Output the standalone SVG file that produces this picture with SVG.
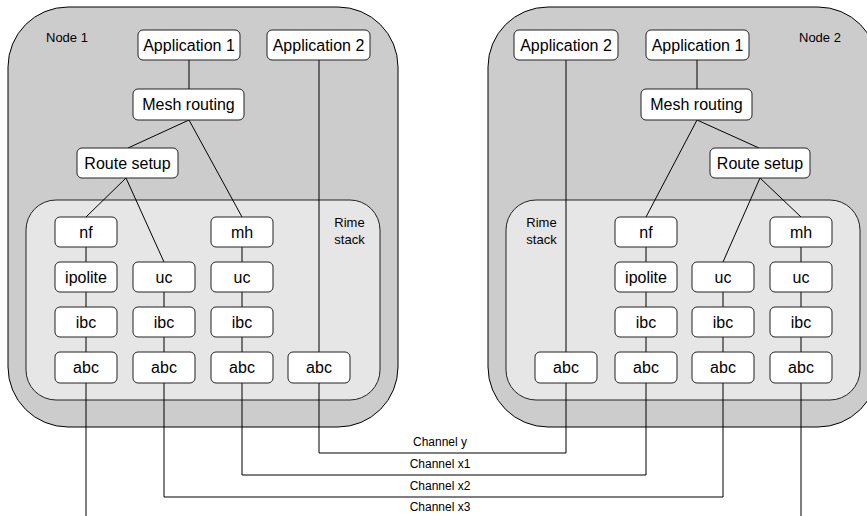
<svg xmlns="http://www.w3.org/2000/svg" width="867" height="516" viewBox="0 0 867 516">
<style>
.outer{fill:#cccccc;stroke:#000;stroke-width:1}
.rime{fill:#e6e6e6;stroke:#222;stroke-width:1}
.box{fill:#fff;stroke:#222;stroke-width:1}
.lbl{font-family:"Liberation Sans",Arial,sans-serif;font-size:16px;fill:#000;text-anchor:middle}
.small{font-family:"Liberation Sans",Arial,sans-serif;font-size:13px;fill:#000}
.ch{font-family:"Liberation Sans",Arial,sans-serif;font-size:12px;fill:#000;text-anchor:middle}
.conn line,.conn polyline{stroke:#000;stroke-width:1;fill:none}
</style>
<g id="node1-container">
<rect class="outer" x="8" y="7" width="390" height="420" rx="60"/>
<text class="small" x="46" y="42">Node 1</text>
</g>
<g id="node2-container">
<rect class="outer" x="488" y="7" width="390" height="420" rx="60"/>
<text class="small" x="799" y="42">Node 2</text>
</g>
<g id="rime1">
<rect class="rime" x="26" y="200" width="354" height="200" rx="30"/>
<text class="small" x="349.5" y="227" text-anchor="middle">Rime</text>
<text class="small" x="349.5" y="244" text-anchor="middle">stack</text>
</g>
<g id="rime2">
<rect class="rime" x="506" y="200" width="354" height="200" rx="30"/>
<text class="small" x="541.5" y="227" text-anchor="middle">Rime</text>
<text class="small" x="541.5" y="244" text-anchor="middle">stack</text>
</g>
<g class="conn" id="connectors">
<!-- node 1 -->
<line x1="189" y1="60" x2="189" y2="89"/>
<line x1="189" y1="120" x2="128" y2="148"/>
<line x1="189" y1="120" x2="242" y2="217"/>
<line x1="126" y1="178" x2="86" y2="217"/>
<line x1="126" y1="178" x2="164" y2="262"/>
<line x1="319" y1="60" x2="319" y2="352"/>
<line x1="86" y1="247" x2="86" y2="262"/>
<line x1="86" y1="292" x2="86" y2="307"/>
<line x1="86" y1="337" x2="86" y2="352"/>
<line x1="164" y1="292" x2="164" y2="307"/>
<line x1="164" y1="337" x2="164" y2="352"/>
<line x1="242" y1="247" x2="242" y2="262"/>
<line x1="242" y1="292" x2="242" y2="307"/>
<line x1="242" y1="337" x2="242" y2="352"/>
<!-- node 2 -->
<line x1="697" y1="60" x2="697" y2="89"/>
<line x1="697" y1="120" x2="646" y2="217"/>
<line x1="697" y1="120" x2="759" y2="148"/>
<line x1="760" y1="178" x2="723" y2="262"/>
<line x1="760" y1="178" x2="801" y2="217"/>
<line x1="566" y1="60" x2="566" y2="352"/>
<line x1="646" y1="247" x2="646" y2="262"/>
<line x1="646" y1="292" x2="646" y2="307"/>
<line x1="646" y1="337" x2="646" y2="352"/>
<line x1="723" y1="292" x2="723" y2="307"/>
<line x1="723" y1="337" x2="723" y2="352"/>
<line x1="801" y1="247" x2="801" y2="262"/>
<line x1="801" y1="292" x2="801" y2="307"/>
<line x1="801" y1="337" x2="801" y2="352"/>
<!-- channels -->
<polyline points="319,383 319,453 566,453 566,383"/>
<polyline points="242,383 242,475 646,475 646,383"/>
<polyline points="164,383 164,497 723,497 723,383"/>
<polyline points="86,383 86,520 801,520 801,383"/>
</g>
<g id="channel-labels">
<text class="ch" x="440" y="446">Channel y</text>
<text class="ch" x="440" y="468">Channel x1</text>
<text class="ch" x="440" y="490">Channel x2</text>
<text class="ch" x="440" y="511">Channel x3</text>
</g>
<!-- Node 1 boxes -->
<g id="n1-app1"><rect class="box" x="138" y="30" width="102" height="30" rx="5"/><text class="lbl" x="189" y="51">Application 1</text></g>
<g id="n1-app2"><rect class="box" x="267" y="30" width="103" height="30" rx="5"/><text class="lbl" x="318.5" y="51">Application 2</text></g>
<g id="n1-mesh"><rect class="box" x="133" y="89" width="111" height="31" rx="5"/><text class="lbl" x="188.5" y="110">Mesh routing</text></g>
<g id="n1-route"><rect class="box" x="77" y="148" width="101" height="30" rx="5"/><text class="lbl" x="127.5" y="169">Route setup</text></g>
<g id="n1-nf"><rect class="box" x="55" y="217" width="62" height="30" rx="5"/><text class="lbl" x="86" y="238">nf</text></g>
<g id="n1-ipolite"><rect class="box" x="55" y="262" width="62" height="30" rx="5"/><text class="lbl" x="86" y="283">ipolite</text></g>
<g id="n1-ibc1"><rect class="box" x="55" y="307" width="62" height="30" rx="5"/><text class="lbl" x="86" y="328">ibc</text></g>
<g id="n1-abc1"><rect class="box" x="55" y="352" width="62" height="31" rx="5"/><text class="lbl" x="86" y="373">abc</text></g>
<g id="n1-uc2"><rect class="box" x="133" y="262" width="62" height="30" rx="5"/><text class="lbl" x="164" y="283">uc</text></g>
<g id="n1-ibc2"><rect class="box" x="133" y="307" width="62" height="30" rx="5"/><text class="lbl" x="164" y="328">ibc</text></g>
<g id="n1-abc2"><rect class="box" x="133" y="352" width="62" height="31" rx="5"/><text class="lbl" x="164" y="373">abc</text></g>
<g id="n1-mh"><rect class="box" x="211" y="217" width="62" height="30" rx="5"/><text class="lbl" x="242" y="238">mh</text></g>
<g id="n1-uc3"><rect class="box" x="211" y="262" width="62" height="30" rx="5"/><text class="lbl" x="242" y="283">uc</text></g>
<g id="n1-ibc3"><rect class="box" x="211" y="307" width="62" height="30" rx="5"/><text class="lbl" x="242" y="328">ibc</text></g>
<g id="n1-abc3"><rect class="box" x="211" y="352" width="62" height="31" rx="5"/><text class="lbl" x="242" y="373">abc</text></g>
<g id="n1-abc4"><rect class="box" x="288" y="352" width="62" height="31" rx="5"/><text class="lbl" x="319" y="373">abc</text></g>
<!-- Node 2 boxes -->
<g id="n2-app2"><rect class="box" x="514" y="30" width="104" height="30" rx="5"/><text class="lbl" x="566" y="51">Application 2</text></g>
<g id="n2-app1"><rect class="box" x="646" y="30" width="103" height="30" rx="5"/><text class="lbl" x="697.5" y="51">Application 1</text></g>
<g id="n2-mesh"><rect class="box" x="641" y="89" width="111" height="31" rx="5"/><text class="lbl" x="696.5" y="110">Mesh routing</text></g>
<g id="n2-route"><rect class="box" x="710" y="148" width="100" height="30" rx="5"/><text class="lbl" x="760" y="169">Route setup</text></g>
<g id="n2-abc0"><rect class="box" x="535" y="352" width="62" height="31" rx="5"/><text class="lbl" x="566" y="373">abc</text></g>
<g id="n2-nf"><rect class="box" x="615" y="217" width="62" height="30" rx="5"/><text class="lbl" x="646" y="238">nf</text></g>
<g id="n2-ipolite"><rect class="box" x="615" y="262" width="62" height="30" rx="5"/><text class="lbl" x="646" y="283">ipolite</text></g>
<g id="n2-ibc1"><rect class="box" x="615" y="307" width="62" height="30" rx="5"/><text class="lbl" x="646" y="328">ibc</text></g>
<g id="n2-abc1"><rect class="box" x="615" y="352" width="62" height="31" rx="5"/><text class="lbl" x="646" y="373">abc</text></g>
<g id="n2-uc2"><rect class="box" x="692" y="262" width="62" height="30" rx="5"/><text class="lbl" x="723" y="283">uc</text></g>
<g id="n2-ibc2"><rect class="box" x="692" y="307" width="62" height="30" rx="5"/><text class="lbl" x="723" y="328">ibc</text></g>
<g id="n2-abc2"><rect class="box" x="692" y="352" width="62" height="31" rx="5"/><text class="lbl" x="723" y="373">abc</text></g>
<g id="n2-mh"><rect class="box" x="770" y="217" width="62" height="30" rx="5"/><text class="lbl" x="801" y="238">mh</text></g>
<g id="n2-uc3"><rect class="box" x="770" y="262" width="62" height="30" rx="5"/><text class="lbl" x="801" y="283">uc</text></g>
<g id="n2-ibc3"><rect class="box" x="770" y="307" width="62" height="30" rx="5"/><text class="lbl" x="801" y="328">ibc</text></g>
<g id="n2-abc3"><rect class="box" x="770" y="352" width="62" height="31" rx="5"/><text class="lbl" x="801" y="373">abc</text></g>
</svg>
